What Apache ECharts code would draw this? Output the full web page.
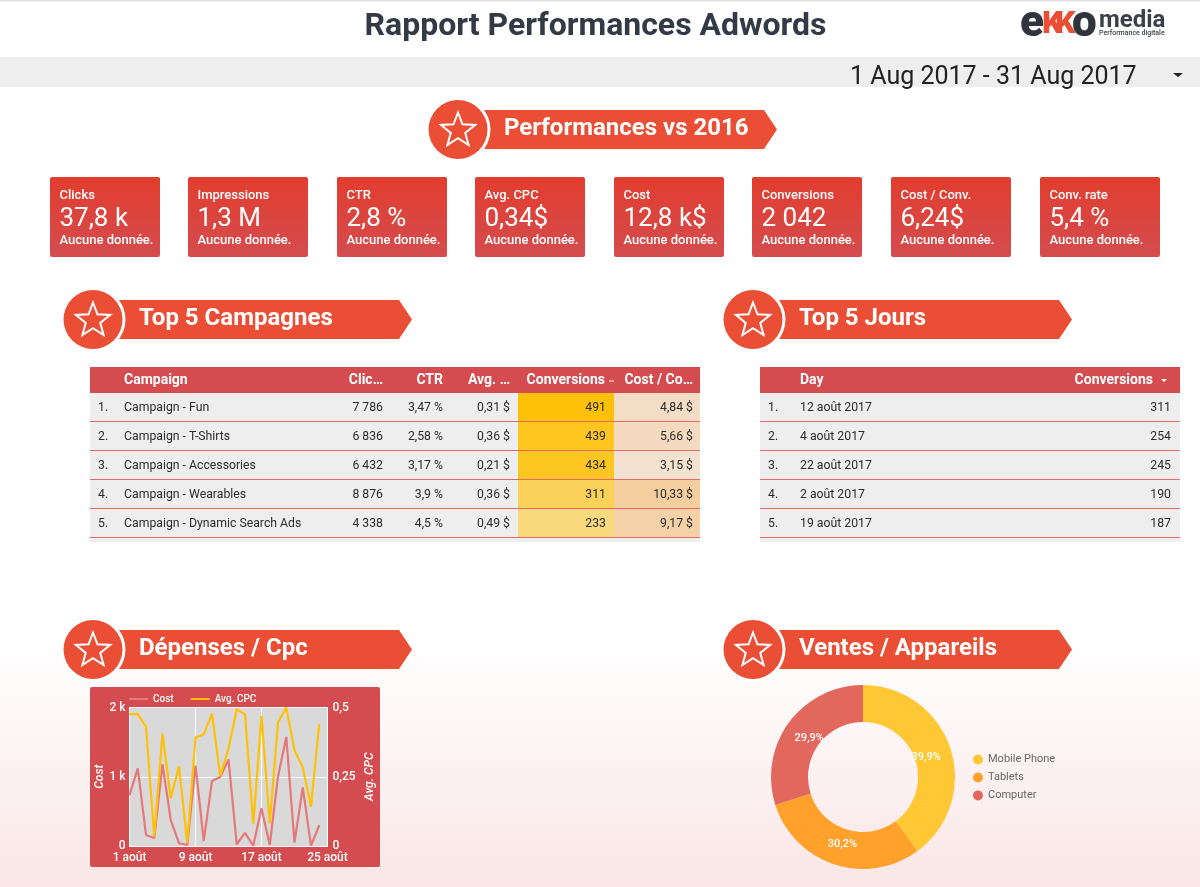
<!DOCTYPE html>
<html>
<head>
<meta charset="utf-8">
<title>Rapport Performances Adwords</title>
<script src="https://cdn.jsdelivr.net/npm/echarts@6/dist/echarts.min.js"></script>
<style>
    html, body { margin: 0; padding: 0; background: #fff; }
    #main { width: 1200px; height: 887px; }
</style>
</head>
<body>
<div id="main"></div>
<script>
//kpi
var kpiLabels = ['Clicks', 'Impressions', 'CTR', 'Avg. CPC', 'Cost', 'Conversions', 'Cost / Conv.', 'Conv. rate'];
var kpiValues = ['37,8 k', '1,3 M', '2,8 %', '0,34$', '12,8 k$', '2 042', '6,24$', '5,4 %'];
var kpiNote = 'Aucune donnée.';

//top 5 campagnes
var campaignHeaders = ['Campaign', 'Clic…', 'CTR', 'Avg. …', 'Conversions', 'Cost / Co…'];
var campaigns = ['Campaign - Fun', 'Campaign - T-Shirts', 'Campaign - Accessories', 'Campaign - Wearables', 'Campaign - Dynamic Search Ads'];
var campaignClicks = ['7 786', '6 836', '6 432', '8 876', '4 338'];
var campaignCtr = ['3,47 %', '2,58 %', '3,17 %', '3,9 %', '4,5 %'];
var campaignCpc = ['0,31 $', '0,36 $', '0,21 $', '0,36 $', '0,49 $'];
var campaignConversions = [491, 439, 434, 311, 233];
var campaignCostConv = [4.84, 5.66, 3.15, 10.33, 9.17];

//top 5 jours
var days = ['12 août 2017', '4 août 2017', '22 août 2017', '2 août 2017', '19 août 2017'];
var dayConversions = [311, 254, 245, 190, 187];

//dépenses / cpc
var dates = ['1 août', '2 août', '3 août', '4 août', '5 août', '6 août', '7 août', '8 août', '9 août', '10 août', '11 août', '12 août', '13 août',
    '14 août', '15 août', '16 août', '17 août', '18 août', '19 août', '20 août', '21 août', '22 août', '23 août', '24 août', '25 août'];
var costValues = [735, 1120, 160, 115, 1180, 375, 40, 15, 1160, 75, 940, 995, 1250, 25, 190, 5, 545, 15, 1000, 1575, 50, 845, 5, 300, null];
var cpcValues = [0.476, 0.477, 0.43, 0.034, 0.406, 0.172, 0.288, 0.01, 0.392, 0.403, 0.478, 0.252, 0.352, 0.494, 0.475, 0.079, 0.47, 0.082, 0.446, 0.5, 0.346, 0.284, 0.142, 0.44, null];

//ventes / appareils
var deviceNames = ['Mobile Phone', 'Tablets', 'Computer'];
var deviceShares = [39.9, 30.2, 29.9];

var FONT = 'Roboto, sans-serif';
var RED = '#d44c4f';
var ORANGE = '#ea4f36';

var elements = [];

function txt(x, y, text, size, color, weight, align) {
    elements.push({
        type: 'text',
        x: x,
        y: y + size * 0.07,
        style: {
            x: 0,
            y: 0,
            text: text,
            fill: color,
            fontFamily: FONT,
            fontSize: size,
            fontWeight: weight || 400,
            align: align || 'left',
            verticalAlign: 'middle',
            textAlign: align || 'left',
            textVerticalAlign: 'middle'
        }
    });
}

function box(x, y, w, h, fill, r) {
    elements.push({
        type: 'rect',
        shape: { x: x, y: y, width: w, height: h, r: r || 0 },
        style: { fill: fill }
    });
}

function mix(c1, c2, t) {
    var out = '#';
    for (var i = 1; i < 7; i += 2) {
        var a = parseInt(c1.substr(i, 2), 16);
        var b = parseInt(c2.substr(i, 2), 16);
        var v = Math.round(a + (b - a) * t).toString(16);
        out += v.length < 2 ? '0' + v : v;
    }
    return out;
}

function banner(cx, cy, title) {
    var left = cx + 26;
    elements.push({
        type: 'polygon',
        shape: { points: [[left, cy - 19.5], [cx + 306, cy - 19.5], [cx + 319, cy], [cx + 306, cy + 19.5], [left, cy + 19.5]] },
        style: { fill: ORANGE }
    });
    elements.push({ type: 'circle', shape: { cx: cx, cy: cy, r: 32.5 }, style: { fill: '#fff' } });
    elements.push({ type: 'circle', shape: { cx: cx, cy: cy, r: 29.5 }, style: { fill: ORANGE } });
    var star = [];
    for (var i = 0; i < 10; i++) {
        var r = i % 2 == 0 ? 18 : 7.6;
        var a = -Math.PI / 2 + i * Math.PI / 5;
        star.push([cx + r * Math.cos(a), cy + 1 + r * Math.sin(a)]);
    }
    elements.push({
        type: 'polygon',
        shape: { points: star },
        style: { fill: 'none', stroke: '#fff', lineWidth: 2 }
    });
    txt(cx + 46, cy - 2.5, title, 24, '#fff', 700);
}

//fond de page
elements.push({
    type: 'rect',
    shape: { x: 0, y: 0, width: 1200, height: 887 },
    style: {
        fill: new echarts.graphic.LinearGradient(0, 0, 0, 1, [
            { offset: 0, color: '#ffffff' },
            { offset: 0.72, color: '#ffffff' },
            { offset: 1, color: '#fae6e6' }
        ])
    }
});

//entete
box(0, 0, 1200, 1.5, '#e2e2e2');
txt(595.5, 24.5, 'Rapport Performances Adwords', 32, '#333a45', 700, 'center');
txt(1020, 22, 'e', 44, '#2f343d', 900);
txt(1042, 23, 'K', 32, ORANGE, 900);
txt(1055, 23, 'K', 32, ORANGE, 900);
txt(1072, 22, 'o', 44, '#2f343d', 900);
txt(1099, 19, 'media', 24, '#3a3f48', 700);
txt(1099, 33, 'Performance digitale', 7, '#3a3f48', 500);
box(0, 57, 1200, 30, '#eeeeee');
txt(850, 76, '1 Aug 2017 - 31 Aug 2017', 25, '#212121', 400);
elements.push({
    type: 'polygon',
    shape: { points: [[1173, 73], [1183, 73], [1178, 77]] },
    style: { fill: '#212121' }
});

//kpi
var kpiX = [50, 188, 337, 475, 614, 752, 891, 1040];
var kpiW = [110, 120, 110, 110, 110, 110, 120, 120];
banner(458, 129.5, 'Performances vs 2016');
for (var k = 0; k < kpiLabels.length; k++) {
    elements.push({
        type: 'rect',
        shape: { x: kpiX[k], y: 177, width: kpiW[k], height: 80, r: 2 },
        style: {
            fill: new echarts.graphic.LinearGradient(0, 0, 0, 1, [
                { offset: 0, color: '#e23d2e' },
                { offset: 1, color: RED }
            ])
        }
    });
    txt(kpiX[k] + 9.5, 195, kpiLabels[k], 13, '#fff', 500);
    txt(kpiX[k] + 9.5, 218, kpiValues[k], 26, '#fff', 400);
    txt(kpiX[k] + 9.5, 240, kpiNote, 13, '#fff', 500);
}

//tableaux
banner(93, 319.5, 'Top 5 Campagnes');
banner(753, 319.5, 'Top 5 Jours');

var ROW_TOP = 393;
var ROW_H = 29;
var TEXT_COL = '#2b2b2b';
var CELL_SIZE = 12.25;

box(90, 367, 610, 26, RED);
box(90, 393, 610, 149, '#eeeeee');
txt(124, 379.5, campaignHeaders[0], 14, '#fff', 700);
txt(383, 379.5, campaignHeaders[1], 14, '#fff', 700, 'right');
txt(443, 379.5, campaignHeaders[2], 14, '#fff', 700, 'right');
txt(510, 379.5, campaignHeaders[3], 14, '#fff', 700, 'right');
txt(605, 379.5, campaignHeaders[4], 14, '#fff', 700, 'right');
box(609, 380.5, 5, 1, '#fff');
txt(693, 379.5, campaignHeaders[5], 14, '#fff', 700, 'right');

var convMin = Math.min.apply(null, campaignConversions);
var convMax = Math.max.apply(null, campaignConversions);
var ccMin = Math.min.apply(null, campaignCostConv);
var ccMax = Math.max.apply(null, campaignCostConv);
for (var i = 0; i < campaigns.length; i++) {
    var rowY = ROW_TOP + i * ROW_H;
    var rowMid = rowY + ROW_H / 2 - 0.5;
    box(518, rowY, 96, ROW_H, mix('#f8d97c', '#ffc107', (campaignConversions[i] - convMin) / (convMax - convMin)));
    box(614, rowY, 86, ROW_H, mix('#f3e2d0', '#f5cea0', (campaignCostConv[i] - ccMin) / (ccMax - ccMin)));
    box(90, rowY + ROW_H - 1, 610, 1, '#e46a6a');
    txt(98, rowMid, (i + 1) + '.', CELL_SIZE, TEXT_COL);
    txt(124, rowMid, campaigns[i], CELL_SIZE, TEXT_COL);
    txt(383, rowMid, campaignClicks[i], CELL_SIZE, TEXT_COL, 400, 'right');
    txt(443, rowMid, campaignCtr[i], CELL_SIZE, TEXT_COL, 400, 'right');
    txt(510, rowMid, campaignCpc[i], CELL_SIZE, TEXT_COL, 400, 'right');
    txt(606, rowMid, String(campaignConversions[i]), CELL_SIZE, TEXT_COL, 400, 'right');
    txt(693, rowMid, campaignCostConv[i].toFixed(2).replace('.', ',') + ' $', CELL_SIZE, TEXT_COL, 400, 'right');
}

box(760, 367, 420, 26, RED);
box(760, 393, 420, 149, '#eeeeee');
txt(800, 379.5, 'Day', 14, '#fff', 700);
txt(1153, 379.5, 'Conversions', 14, '#fff', 700, 'right');
elements.push({
    type: 'polygon',
    shape: { points: [[1161, 379], [1167, 379], [1164, 382]] },
    style: { fill: '#fff' }
});
for (var j = 0; j < days.length; j++) {
    var dayY = ROW_TOP + j * ROW_H;
    var dayMid = dayY + ROW_H / 2 - 0.5;
    box(760, dayY + ROW_H - 1, 420, 1, '#e46a6a');
    txt(768, dayMid, (j + 1) + '.', CELL_SIZE, TEXT_COL);
    txt(800, dayMid, days[j], CELL_SIZE, TEXT_COL);
    txt(1171, dayMid, String(dayConversions[j]), CELL_SIZE, TEXT_COL, 400, 'right');
}

//graphiques
banner(93, 649.5, 'Dépenses / Cpc');
banner(753, 649.5, 'Ventes / Appareils');
box(90, 687, 290, 180, RED, 2);
elements.forEach(function (el) { el.z = -1; });

var axisLabelStyle = { color: '#fff', fontFamily: FONT, fontSize: 12, fontWeight: 500 };
var axisNameStyle = { color: '#fff', fontFamily: FONT, fontSize: 12, fontWeight: 500, fontStyle: 'italic' };

var option = {
    animation: false,
    textStyle: { fontFamily: FONT },
    graphic: { elements: elements },
    legend: [
        {
            left: 129,
            top: 694,
            padding: 0,
            itemWidth: 19,
            itemHeight: 2,
            itemGap: 17,
            icon: 'rect',
            data: ['Cost', 'Avg. CPC'],
            textStyle: { color: '#fff', fontFamily: FONT, fontSize: 10, fontWeight: 500 }
        },
        {
            left: 973,
            top: 754,
            padding: 0,
            orient: 'vertical',
            itemWidth: 10,
            itemHeight: 10,
            itemGap: 7,
            icon: 'circle',
            data: deviceNames,
            textStyle: { color: '#666', fontFamily: FONT, fontSize: 11 }
        }
    ],
    grid: {
        left: 129.5,
        top: 707.5,
        width: 198,
        height: 138.5,
        show: true,
        backgroundColor: '#d9d9d9',
        borderWidth: 0
    },
    xAxis: {
        type: 'category',
        data: dates,
        boundaryGap: false,
        axisLine: { lineStyle: { color: '#fff', width: 1 } },
        axisTick: { show: false },
        axisLabel: Object.assign({ interval: 7, margin: 6, showMaxLabel: true, hideOverlap: false }, axisLabelStyle),
        splitLine: { show: true, interval: 7, lineStyle: { color: '#fff', width: 1 } }
    },
    yAxis: [
        {
            type: 'value',
            min: 0,
            max: 2000,
            interval: 1000,
            name: 'Cost',
            nameLocation: 'middle',
            nameRotate: 90,
            nameGap: 23,
            nameTextStyle: axisNameStyle,
            axisLine: { show: true, lineStyle: { color: '#fff', width: 1 } },
            axisTick: { show: false },
            axisLabel: Object.assign({
                margin: 4,
                formatter: function (v) { return v == 0 ? '0' : (v / 1000) + ' k'; }
            }, axisLabelStyle),
            splitLine: { show: true, lineStyle: { color: '#fff', width: 1 } }
        },
        {
            type: 'value',
            min: 0,
            max: 0.5,
            interval: 0.25,
            name: 'Avg. CPC',
            nameLocation: 'middle',
            nameRotate: 90,
            nameGap: 36,
            nameTextStyle: axisNameStyle,
            axisLine: { show: true, lineStyle: { color: '#fff', width: 1 } },
            axisTick: { show: false },
            axisLabel: Object.assign({
                margin: 5,
                formatter: function (v) { return String(v).replace('.', ','); }
            }, axisLabelStyle),
            splitLine: { show: false }
        }
    ],
    series: [
        {
            name: 'Cost',
            type: 'line',
            yAxisIndex: 0,
            data: costValues,
            symbol: 'none',
            lineStyle: { color: '#e57878', width: 2.2 },
            itemStyle: { color: '#e57878' }
        },
        {
            name: 'Avg. CPC',
            type: 'line',
            yAxisIndex: 1,
            data: cpcValues,
            symbol: 'none',
            lineStyle: { color: '#ffc107', width: 2.2 },
            itemStyle: { color: '#ffc107' }
        },
        {
            name: 'Appareils',
            type: 'pie',
            center: [863, 777],
            radius: [55, 92],
            startAngle: 90,
            clockwise: true,
            data: deviceNames.map(function (n, i) { return { name: n, value: deviceShares[i] }; }),
            color: ['#ffc733', '#ffa12b', '#e2685d'],
            label: {
                position: 'inside',
                color: '#fff',
                fontFamily: FONT,
                fontSize: 11,
                fontWeight: 500,
                formatter: function (p) { return p.value.toFixed(1).replace('.', ',') + '%'; }
            },
            labelLayout: function (p) {
                var cx = p.labelRect.x + p.labelRect.width / 2;
                var cy = p.labelRect.y + p.labelRect.height / 2;
                return { dx: (863 - cx) * 0.13, dy: (777 - cy) * 0.1 + 2 };
            },
            labelLine: { show: false },
            emphasis: { disabled: true }
        }
    ]
};

var myChart = echarts.init(document.getElementById('main'), null, { renderer: 'canvas', width: 1200, height: 887 });
myChart.setOption(option);
</script>
</body>
</html>
